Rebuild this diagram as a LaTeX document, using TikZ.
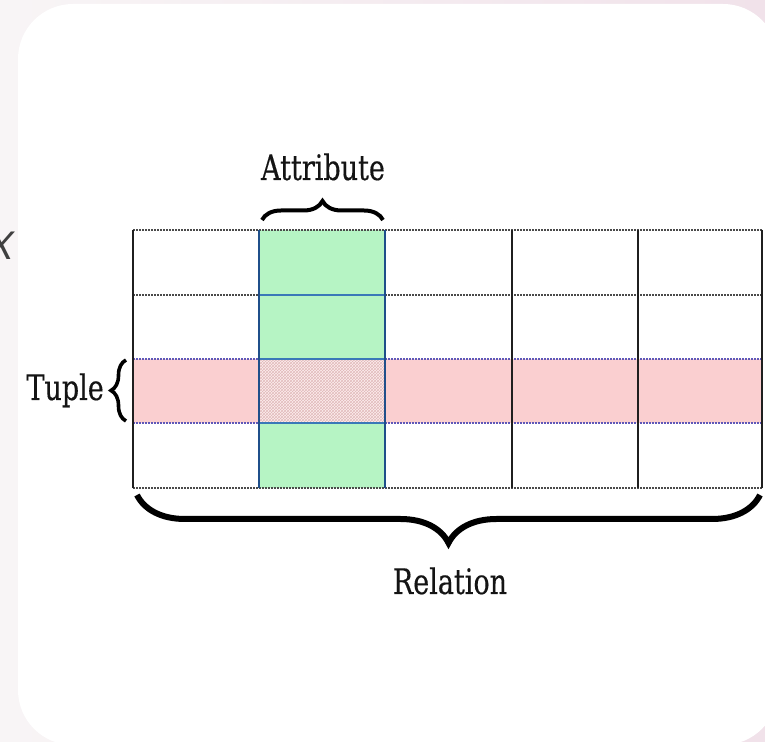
\documentclass[tikz,border=0pt]{standalone}
\usepackage{fontspec}
\usepackage{graphicx}
\setmainfont{DejaVu Serif}
\newfontfamily\lblfont[FakeBold=0.4]{DejaVu Serif}
\newfontfamily\xfont{Liberation Sans}
\usetikzlibrary{decorations.pathreplacing,patterns}
\definecolor{bgL}{HTML}{F8F5F6}
\definecolor{bgR}{HTML}{F1E2EA}
\definecolor{colgreen}{HTML}{B6F4C4}
\definecolor{rowpink}{HTML}{FACFD0}
\definecolor{gridgray}{HTML}{4A4A4A}
\definecolor{rowline}{HTML}{5F58B8}
\definecolor{colline}{HTML}{1F4F8A}
\definecolor{inblue}{HTML}{3A78B8}
\begin{document}
\begin{tikzpicture}[x=1pt,y=1pt,
  lbl/.style={inner sep=0pt, text=black!92, font=\lblfont\fontsize{27}{27}\selectfont},
  hline/.style={line width=2pt, draw=gridgray, dash pattern=on 2pt off 1pt},
  pinkline/.style={line width=2pt, draw=rowline, dash pattern=on 2pt off 1pt},
  vline/.style={line width=1.9pt, draw=black!88},
  cline/.style={line width=2pt, draw=colline},
  bline/.style={line width=2.4pt, draw=inblue},
  bracestyle/.style={decorate, decoration={brace, amplitude=#1}, draw=black}]
% background and card
\shade[left color=bgL, right color=bgR] (0,0) rectangle (765,741);
\useasboundingbox (0,0) rectangle (765,741);
\fill[white, rounded corners=55pt] (18,-4) rectangle (778,737);
\node[anchor=east, inner sep=0pt, text=black!75, font=\xfont\itshape\fontsize{40}{40}\selectfont] (xcut) at (14,495) {X};
% fills
\fill[colgreen] (259,253) rectangle (385,511);
\fill[rowpink] (133,318) rectangle (762,382);
\fill[rowpink!35] (259,318) rectangle (385,382);
\fill[pattern=crosshatch, pattern color=rowpink!90!black] (259,318) rectangle (385,382);
% grid corners
\coordinate (tl) at (133,511);
\coordinate (tr) at (762,511);
\coordinate (bl) at (133,253);
\coordinate (br) at (762,253);
% horizontal lines
\draw[hline] (tl) -- (tr);
\draw[hline] (133,446) -- (762,446);
\draw[hline] (bl) -- (br);
\draw[pinkline] (133,382) -- (762,382);
\draw[pinkline] (133,318) -- (762,318);
\draw[bline] (259,446) -- (385,446);
\draw[bline] (259,382) -- (385,382);
\draw[bline] (259,318) -- (385,318);
% vertical lines
\draw[vline] (tl) -- (bl);
\draw[vline] (512,511) -- (512,253);
\draw[vline] (638,511) -- (638,253);
\draw[vline] (tr) -- (br);
\draw[cline] (259,511) -- (259,253);
\draw[cline] (385,511) -- (385,253);
% labels
\node[lbl, anchor=base] (attr) at (323,561) {\scalebox{1}[1.3]{Attribute}};
\node[lbl, anchor=base east] (tuple) at (104,341) {\scalebox{1}[1.3]{Tuple}};
\node[lbl, anchor=base] (rel) at (450,147) {\scalebox{1}[1.3]{Relation}};
% braces
\draw[bracestyle=19, line width=4pt] (262,521) -- (383,521);
\draw[bracestyle=15, line width=3.6pt] (126,320) -- (126,381);
\draw[bracestyle=48, line width=6pt, decoration={mirror}] (137,246) -- (760,246);
\end{tikzpicture}
\end{document}
